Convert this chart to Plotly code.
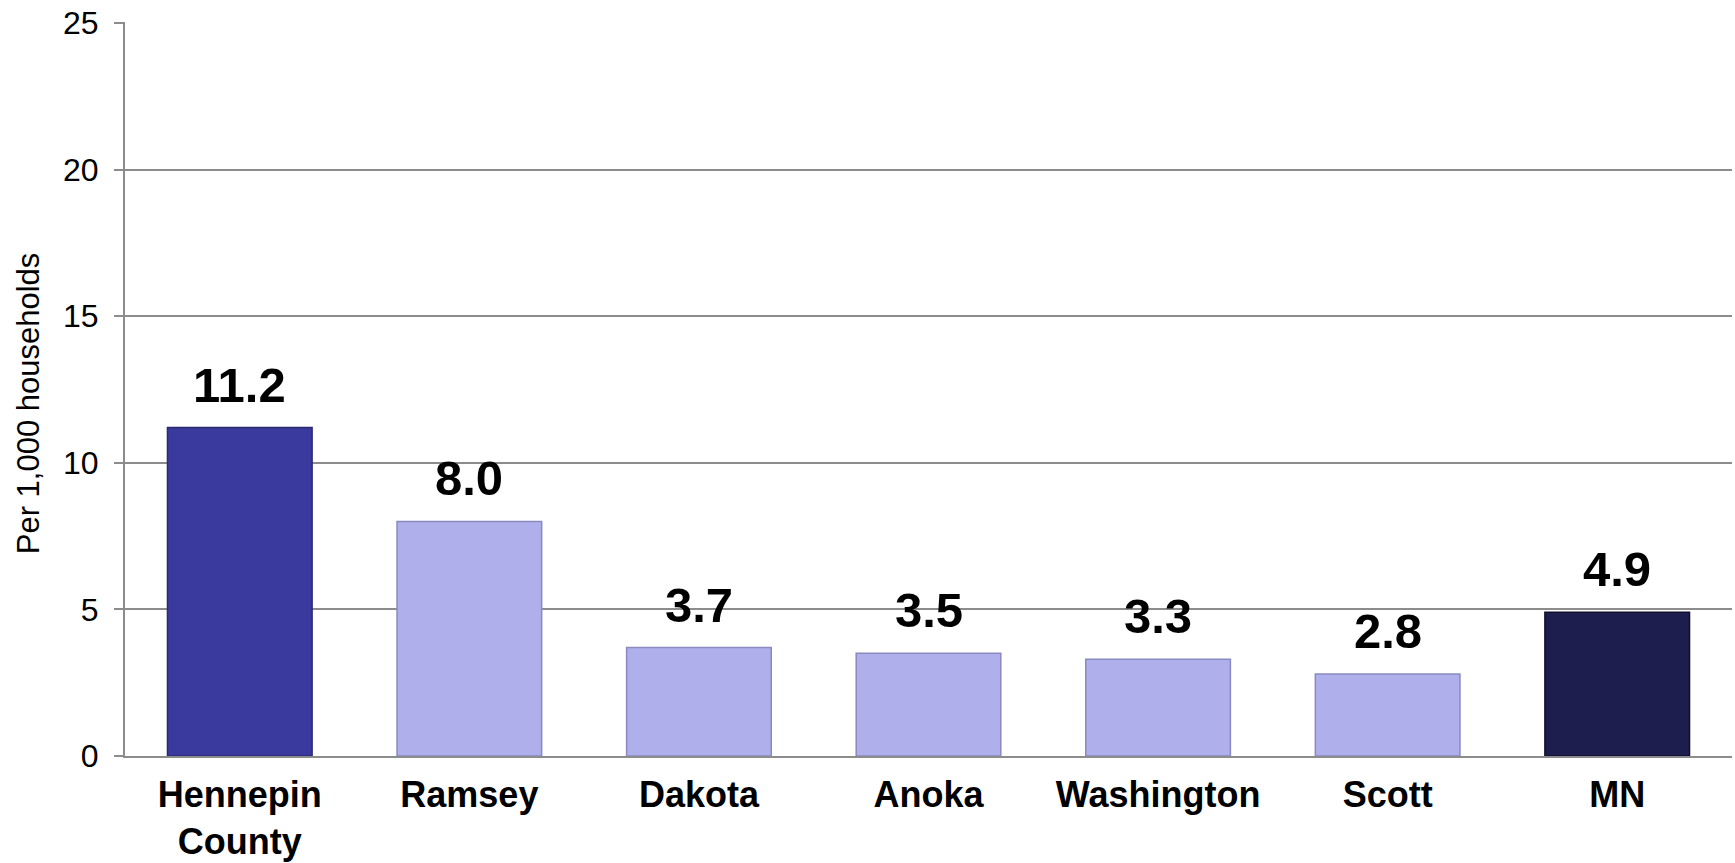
import plotly.graph_objects as go

counties = ["Hennepin<br>County", "Ramsey", "Dakota", "Anoka", "Washington", "Scott", "MN"]
rates = [11.2, 8.0, 3.7, 3.5, 3.3, 2.8, 4.9]
bar_colors = ["#3a3a9e", "#afafec", "#afafec", "#afafec", "#afafec", "#afafec", "#1e1e4e"]
edge_colors = ["#2a2a70", "#8a8ac0", "#8a8ac0", "#8a8ac0", "#8a8ac0", "#8a8ac0", "#10102e"]
y_ticks = [0, 5, 10, 15, 20, 25]

FONT = "Liberation Sans, Arial"

fig = go.Figure(go.Bar(
    x=counties,
    y=rates,
    marker=dict(color=bar_colors, line=dict(color=edge_colors, width=1.5)),
    width=0.63,
    hoverinfo="x+y",
))

# value labels above the bars
for c, v in zip(counties, rates):
    fig.add_annotation(
        x=c, y=v, text=f"<b>{v:.1f}</b>", showarrow=False,
        yanchor="bottom", yshift=14,
        font=dict(family=FONT, size=49, color="black"),
    )

fig.add_annotation(
    text="Per 1,000 households", textangle=-90, showarrow=False,
    xref="paper", yref="paper", x=-0.06, y=0.48, xanchor="center", yanchor="middle",
    font=dict(family=FONT, size=31, color="black"),
)

fig.update_layout(
    width=1735, height=863,
    margin=dict(l=125, r=3, t=22, b=107),
    paper_bgcolor="white", plot_bgcolor="white",
    showlegend=False,
    font=dict(family=FONT, color="black"),
    xaxis=dict(
        tickfont=dict(size=36, family=FONT),
        tickprefix="<b>", ticksuffix="</b>",
        showgrid=False, showline=True, linecolor="#8c8c8c", linewidth=2,
        ticks="outside", ticklen=6, tickcolor="rgba(0,0,0,0)",
        automargin=False,
    ),
    yaxis=dict(
        range=[0, 25.03], tickvals=y_ticks,
        tickfont=dict(size=32),
        ticklabeloverflow="allow", ticklabelstandoff=9,
        showgrid=True, gridcolor="#8c8c8c", gridwidth=1.5,
        showline=True, linecolor="#8c8c8c", linewidth=2,
        ticks="outside", ticklen=9, tickcolor="#8c8c8c", tickwidth=1.5,
        zeroline=False, automargin=False,
    ),
)

# drop the default body margin so the chart fills the window exactly
fig.write_html(
    "out.html",
    config={"displayModeBar": False},
    post_script="document.body.style.margin='0';",
)
